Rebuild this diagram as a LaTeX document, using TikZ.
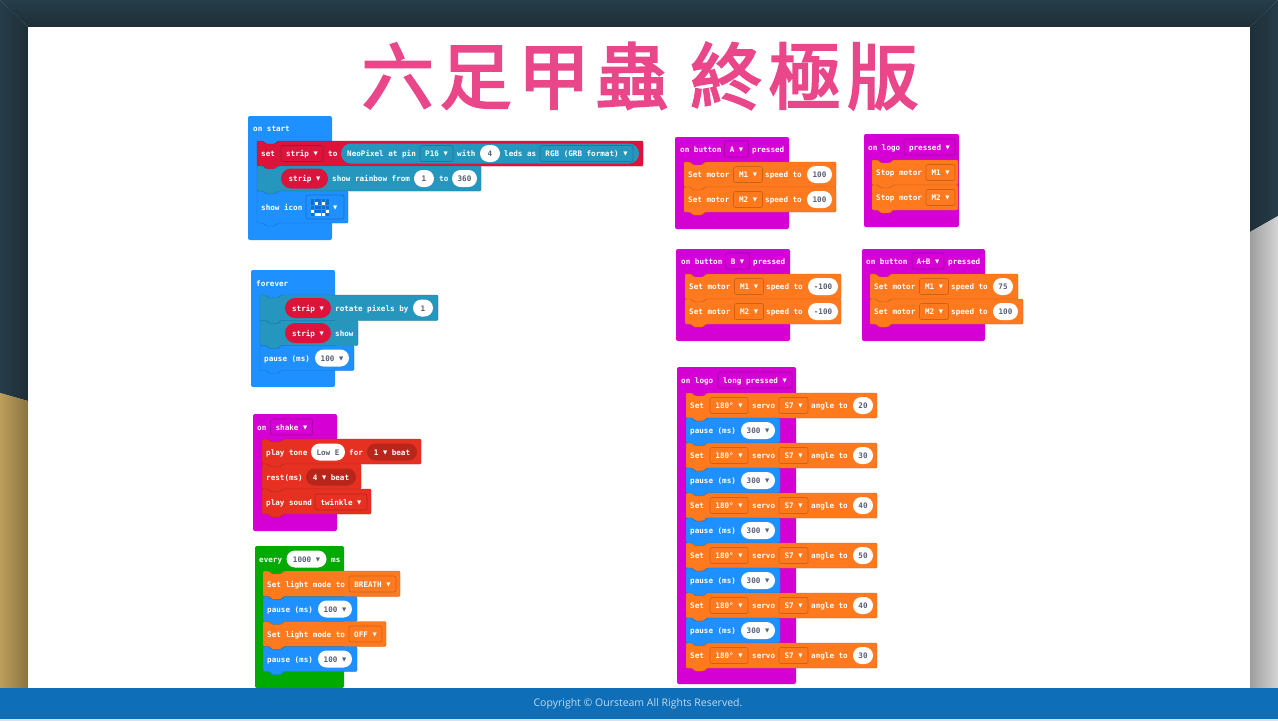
\documentclass[tikz,border=0pt]{standalone}
\usepackage{fontspec}
\usetikzlibrary{shapes.misc}
\setmonofont{DejaVu Sans Mono}
\setsansfont{Open Sans}
\newfontfamily\cjk[LetterSpace=8.5, FakeBold=3]{Noto Sans CJK TC}
\newfontfamily\symfont{DejaVu Sans}
\newcommand{\dd}{\raisebox{.6pt}{\symfont\fontsize{5.5}{7}\selectfont ▼}}
\definecolor{darkbg}{HTML}{263D4A}
\definecolor{darkedge}{HTML}{1E2E37}
\definecolor{tanbg}{HTML}{BD9F5C}
\definecolor{tanedge}{HTML}{8A7240}
\definecolor{greybg}{HTML}{D5D5D5}
\definecolor{greyedge}{HTML}{9E9E9E}
\definecolor{footer}{HTML}{0E6EB8}
\definecolor{titlepink}{HTML}{E9478A}
\definecolor{mbblue}{HTML}{1E90FF}
\definecolor{mbblueedge}{HTML}{1873CC}
\definecolor{mbled}{HTML}{0F6FCF}
\definecolor{mbteal}{HTML}{2596BE}
\definecolor{mbtealedge}{HTML}{1E7898}
\definecolor{mbcrimson}{HTML}{DC143C}
\definecolor{mbcrimsonedge}{HTML}{B01030}
\definecolor{mbpurple}{HTML}{D400D4}
\definecolor{mbpurpleedge}{HTML}{AA00AA}
\definecolor{mbgreen}{HTML}{00AA00}
\definecolor{mborange}{HTML}{FF7A1E}
\definecolor{mborangeedge}{HTML}{CC6218}
\definecolor{mbred}{HTML}{E63022}
\definecolor{mbrededge}{HTML}{B8261B}
\definecolor{mbtext}{HTML}{575E75}
\tikzset{
  blockfont/.style={font=\ttfamily\bfseries\fontsize{7.6}{9}\selectfont, text height=7.2pt, text depth=1.2pt},
  lbl/.style={anchor=west, inner sep=0pt, text=white, blockfont},
  ddfield/.style={draw=#1, line width=.7pt, rounded corners=2pt, minimum height=16pt, inner sep=0pt, text=white, blockfont},
  oval/.style={rounded rectangle, fill=white, minimum height=17pt, inner sep=0pt, text=mbtext, blockfont},
  coloval/.style={oval, fill=#1, text=white},
  blueblock/.style={fill=mbblue, draw=mbblueedge, line width=.4pt},
  tealblock/.style={fill=mbteal, draw=mbtealedge, line width=.4pt},
  crimsonblock/.style={fill=mbcrimson, draw=mbcrimsonedge, line width=.4pt},
  orangeblock/.style={fill=mborange, draw=mborangeedge, line width=.4pt},
  redblock/.style={fill=mbred, draw=mbrededge, line width=.4pt},
  hat/.style={fill=#1, rounded corners=2pt},
}
% block with notch on top and tab below
\newcommand{\mblock}[5]{%
  \draw[#5, rounded corners=1.2pt] (#1,#2) -- (#1+6,#2) -- ++(3,3) -- ++(9,0) -- ++(3,-3) -- (#3,#2)
    -- (#3,#4) -- (#1+21,#4) -- ++(-3,3) -- ++(-9,0) -- ++(-3,-3) -- (#1,#4) -- cycle;}
% motor row: name, left, top, right, motor, speed, oval width
\newcommand{\motorrow}[7]{%
  \mblock{#2}{#3}{#4}{#3+25}{orangeblock}
  \node[lbl] (#1a) at (#2+4,#3+12.5) {Set motor};
  \node[ddfield=mborangeedge, minimum width=29pt] (#1b) at (#2+64,#3+12.5) {#5 \dd};
  \node[lbl] (#1c) at (#2+81,#3+12.5) {speed to};
  \node[oval, minimum width=#7pt] (#1d) at (#2+123+#7/2,#3+12.5) {#6};}
\begin{document}
\begin{tikzpicture}[x=1pt, y=-1pt]
  \useasboundingbox (0,0) rectangle (1278,721);
  % page background
  \fill[white!88!black] (0,0) rectangle (1278,721);
  \shade[left color=darkbg, middle color=darkbg, right color=darkedge] (0,0) -- (28,27) -- (28,401) -- (0,393) -- cycle;
  \shade[left color=darkedge, middle color=darkbg, right color=darkbg] (1278,0) -- (1250,27) -- (1250,232) -- (1278,216) -- cycle;
  \shade[top color=darkbg, bottom color=darkedge] (0,0) -- (1278,0) -- (1250,27) -- (28,27) -- cycle;
  \shade[left color=tanbg, middle color=tanbg, right color=tanedge] (0,393) -- (28,401) -- (28,688) -- (0,688) -- cycle;
  \shade[left color=greyedge, middle color=greybg, right color=greybg] (1250,232) -- (1278,216) -- (1278,688) -- (1250,688) -- cycle;
  \fill[white] (28,27) rectangle (1250,688);
  \fill[footer] (0,688) rectangle (1278,719);
  \node[inner sep=0pt, text=titlepink, font=\cjk\fontsize{72}{80}\selectfont] (title) at (640,76) {六足甲蟲 終極版};
  \node[inner sep=0pt, text=white!75!footer, font=\sffamily\fontsize{10.5}{13}\selectfont] (copyright) at (638,703.5) {Copyright © Oursteam All Rights Reserved.};

  % on start
  \path[hat=mbblue] (248,116) rectangle (332,240);
  \node[lbl] (startlbl) at (253,128) {on start};
  \mblock{257}{141}{643}{166}{crimsonblock}
  \node[lbl] (setlbl) at (261,153.5) {set};
  \node[ddfield=mbcrimsonedge, minimum width=42pt] (setstrip) at (302,153.5) {strip \dd};
  \node[lbl] (tolbl) at (328,153.5) {to};
  \node[coloval=mbteal, minimum width=298pt, minimum height=20pt] (neobg) at (490,153.5) {};
  \node[lbl] (neolbl) at (347,153.5) {NeoPixel at pin};
  \node[ddfield=mbtealedge, minimum width=33pt] (pinfield) at (436.5,153.5) {P16 \dd};
  \node[lbl] (withlbl) at (457,153.5) {with};
  \node[oval, minimum width=20pt] (ledsval) at (490,153.5) {4};
  \node[lbl] (ledslbl) at (504,153.5) {leds as};
  \node[ddfield=mbtealedge, minimum width=93pt] (rgbfield) at (586.5,153.5) {RGB (GRB format) \dd};
  \mblock{257}{166}{481}{191}{tealblock}
  \node[coloval=mbcrimson, minimum width=47pt, minimum height=20pt] (rainbowstrip) at (304.5,178.5) {strip \dd};
  \node[lbl] (rainbowlbl) at (332,178.5) {show rainbow from};
  \node[oval, minimum width=20pt] (rainbowa) at (424,178.5) {1};
  \node[lbl] (rainbowto) at (439,178.5) {to};
  \node[oval, minimum width=25pt] (rainbowb) at (464.5,178.5) {360};
  \mblock{257}{191}{348}{223}{blueblock}
  \node[lbl] (iconlbl) at (261,207) {show icon};
  \node[ddfield=mbblueedge, minimum width=38pt, minimum height=24pt] (iconfield) at (325,207) {};
  \foreach \r/\c/\on in {0/0/0,0/1/0,0/2/0,0/3/0,0/4/0,1/0/0,1/1/1,1/2/0,1/3/1,1/4/0,2/0/0,2/1/0,2/2/0,2/3/0,2/4/0,3/0/1,3/1/0,3/2/0,3/3/0,3/4/1,4/0/0,4/1/1,4/2/1,4/3/1,4/4/0}{
    \ifnum\on=1 \fill[white] (311+3.7*\c,198.5+3.7*\r) rectangle ++(3,3);
    \else \fill[mbled] (311+3.7*\c,198.5+3.7*\r) rectangle ++(3,3); \fi
  }
  \node[lbl] (iconarrow) at (333,207) {\dd};

  % forever
  \path[hat=mbblue] (251,270) rectangle (335,387);
  \node[lbl] (foreverlbl) at (256,283) {forever};
  \mblock{260}{295}{438}{320.5}{tealblock}
  \node[coloval=mbcrimson, minimum width=46pt, minimum height=20pt] (rotatestrip) at (308,308) {strip \dd};
  \node[lbl] (rotatelbl) at (335,308) {rotate pixels by};
  \node[oval, minimum width=20pt] (rotateval) at (423,308) {1};
  \mblock{260}{320.5}{358}{345.5}{tealblock}
  \node[coloval=mbcrimson, minimum width=46pt, minimum height=20pt] (showstrip) at (308,333) {strip \dd};
  \node[lbl] (showlbl) at (335,333) {show};
  \mblock{260}{345.5}{354}{370.5}{blueblock}
  \node[lbl] (foreverpause) at (264,358) {pause (ms)};
  \node[oval, minimum width=34pt] (foreverval) at (332,358) {100 \dd};

  % on shake
  \path[hat=mbpurple] (253,414) rectangle (337,531);
  \node[lbl] (onlbl) at (257,427) {on};
  \node[ddfield=mbpurpleedge, minimum width=42pt] (shakefield) at (291.5,427) {shake \dd};
  \mblock{262}{439}{421}{464}{redblock}
  \node[lbl] (tonelbl) at (266,452) {play tone};
  \node[oval, minimum width=34pt] (toneval) at (328,452) {Low E};
  \node[lbl] (forlbl) at (349,452) {for};
  \node[coloval=mbrededge, minimum width=50pt] (beatval) at (392,452) {1 \dd{} beat};
  \mblock{262}{464}{361}{489}{redblock}
  \node[lbl] (restlbl) at (266,477) {rest(ms)};
  \node[coloval=mbrededge, minimum width=50pt] (restval) at (331,477) {4 \dd{} beat};
  \mblock{262}{489}{371}{514}{redblock}
  \node[lbl] (soundlbl) at (266,502) {play sound};
  \node[ddfield=mbrededge, minimum width=52pt] (soundfield) at (341,502) {twinkle \dd};

  % every
  \path[hat=mbgreen] (255,546) rectangle (344,688);
  \node[lbl] (everylbl) at (259,559) {every};
  \node[oval, minimum width=40pt] (everyval) at (306.5,559) {1000 \dd};
  \node[lbl] (mslbl) at (331,559) {ms};
  \mblock{263}{571}{400}{596.5}{orangeblock}
  \node[lbl] (lighta) at (267,584) {Set light mode to};
  \node[ddfield=mborangeedge, minimum width=47pt] (lightafield) at (372.5,584) {BREATH \dd};
  \mblock{263}{596.5}{357}{621.5}{blueblock}
  \node[lbl] (pausea) at (267,609) {pause (ms)};
  \node[oval, minimum width=34pt] (pauseaval) at (335,609) {100 \dd};
  \mblock{263}{621.5}{386}{646.5}{orangeblock}
  \node[lbl] (lightb) at (267,634) {Set light mode to};
  \node[ddfield=mborangeedge, minimum width=33pt] (lightbfield) at (365.5,634) {OFF \dd};
  \mblock{263}{646.5}{357}{671.5}{blueblock}
  \node[lbl] (pauseb) at (267,659) {pause (ms)};
  \node[oval, minimum width=34pt] (pausebval) at (335,659) {100 \dd};

  % on button A
  \path[hat=mbpurple] (675,137) rectangle (789,229);
  \node[lbl] (btnalbl) at (680,149) {on button};
  \node[ddfield=mbpurpleedge, minimum width=24pt] (btnafield) at (736.5,149) {A \dd};
  \node[lbl] (btnapress) at (752,149) {pressed};
  \motorrow{aone}{684}{162}{836}{M1}{100}{25}
  \motorrow{atwo}{684}{187}{836}{M2}{100}{25}

  % on logo pressed
  \path[hat=mbpurple] (864,134) rectangle (959,227);
  \node[lbl] (logolbl) at (868,147) {on logo};
  \node[ddfield=mbpurpleedge, minimum width=51pt] (logofield) at (929.5,147) {pressed \dd};
  \mblock{872}{160}{958}{185}{orangeblock}
  \node[lbl] (stopa) at (876,172.5) {Stop motor};
  \node[ddfield=mborangeedge, minimum width=29pt] (stopafield) at (940.5,172.5) {M1 \dd};
  \mblock{872}{185}{958}{210}{orangeblock}
  \node[lbl] (stopb) at (876,197.5) {Stop motor};
  \node[ddfield=mborangeedge, minimum width=29pt] (stopbfield) at (940.5,197.5) {M2 \dd};

  % on button B
  \path[hat=mbpurple] (676,249) rectangle (790,341);
  \node[lbl] (btnblbl) at (681,261) {on button};
  \node[ddfield=mbpurpleedge, minimum width=24pt] (btnbfield) at (737.5,261) {B \dd};
  \node[lbl] (btnbpress) at (753,261) {pressed};
  \motorrow{bone}{685}{274}{841}{M1}{-100}{30}
  \motorrow{btwo}{685}{299}{841}{M2}{-100}{30}

  % on button A+B
  \path[hat=mbpurple] (862,249) rectangle (985,341);
  \node[lbl] (btnclbl) at (866,261) {on button};
  \node[ddfield=mbpurpleedge, minimum width=32pt] (btncfield) at (928,261) {A+B \dd};
  \node[lbl] (btncpress) at (948,261) {pressed};
  \motorrow{cone}{870}{274}{1018}{M1}{75}{20}
  \motorrow{ctwo}{870}{299}{1023}{M2}{100}{25}

  % on logo long pressed
  \path[hat=mbpurple] (677,367) rectangle (796,684);
  \node[lbl] (longlbl) at (681,380) {on logo};
  \node[ddfield=mbpurpleedge, minimum width=74pt] (longfield) at (755,380) {long pressed \dd};
  \foreach \i/\ang in {0/20,1/30,2/40,3/50,4/40,5/30}{
    \pgfmathsetmacro{\ytop}{393+50*\i}
    \mblock{686}{\ytop}{877}{\ytop+25}{orangeblock}
    \node[lbl] (servolbl\i) at (690,\ytop+12.5) {Set};
    \node[ddfield=mborangeedge, minimum width=38pt] (servotype\i) at (729,\ytop+12.5) {180° \dd};
    \node[lbl] (servotxt\i) at (752,\ytop+12.5) {servo};
    \node[ddfield=mborangeedge, minimum width=29pt] (servopin\i) at (793.5,\ytop+12.5) {S7 \dd};
    \node[lbl] (servoangle\i) at (811,\ytop+12.5) {angle to};
    \node[oval, minimum width=20pt] (servoval\i) at (863,\ytop+12.5) {\ang};
    \ifnum\i<5
      \mblock{686}{\ytop+25}{780}{\ytop+50}{blueblock}
      \node[lbl] (servopause\i) at (690,\ytop+37.5) {pause (ms)};
      \node[oval, minimum width=34pt] (servowait\i) at (758,\ytop+37.5) {300 \dd};
    \fi
  }
\end{tikzpicture}
\end{document}
